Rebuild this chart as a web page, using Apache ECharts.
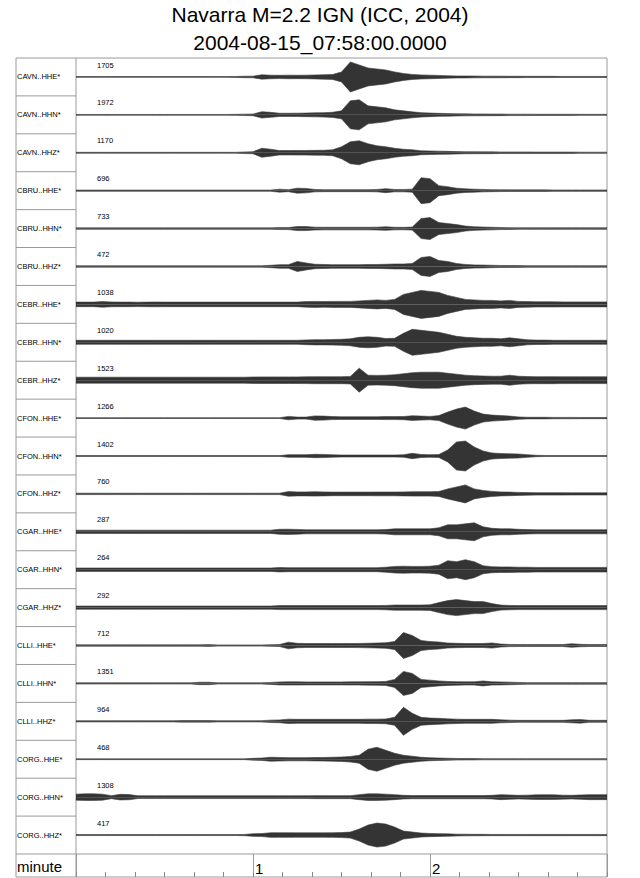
<!DOCTYPE html>
<html>
<head>
<meta charset="utf-8">
<script src="https://cdn.jsdelivr.net/npm/echarts@6/dist/echarts.min.js"></script>
<style>
html,body{margin:0;padding:0;background:#fff;}
#chart{width:640px;height:878px;}
</style>
</head>
<body>
<div id="chart"></div>
<script>
// ---- data (time in seconds from 07:58:00, envelope half-amplitude in plot pixels) ----
var timeSec = [0,3,6,9,12,15,18,21,24,27,
  30,33,36,39,42,45,48,51,54,57,
  60,63,66,69,72,75,78,81,84,87,
  90,93,96,99,102,105,108,111,114,117,
  120,123,126,129,132,135,138,141,144,147,
  150,153,156,159,162,165,168,171,174,177,
  180];
var minuteTicks = ['1','2'];
var stations = ['CAVN..HHE*','CAVN..HHN*','CAVN..HHZ*','CBRU..HHE*','CBRU..HHN*','CBRU..HHZ*',
  'CEBR..HHE*','CEBR..HHN*','CEBR..HHZ*','CFON..HHE*','CFON..HHN*','CFON..HHZ*',
  'CGAR..HHE*','CGAR..HHN*','CGAR..HHZ*','CLLI..HHE*','CLLI..HHN*','CLLI..HHZ*',
  'CORG..HHE*','CORG..HHN*','CORG..HHZ*'];
var maxCounts = [1705,1972,1170,696,733,472,1038,1020,1523,1266,1402,760,287,264,292,712,1351,964,468,1308,417];

var CAVN_HHE = [0.4,0.4,0.4,0.4,0.4,0.4,0.4,0.4,0.4,0.4,
  0.4,0.4,0.4,0.4,0.4,0.4,0.4,0.4,0.5,0.7,
  0.8,2.2,1.8,1.6,1.8,1.7,1.8,2,2.2,2.5,
  5,15,12,9,8,7,5,3.5,2.5,2,
  1.8,1.5,1.2,1,1,0.9,0.8,0.8,0.8,0.7,
  0.7,0.6,0.6,0.6,0.6,0.5,0.5,0.5,0.5,0.5,
  0.5];
var CAVN_HHN = [0.4,0.4,0.4,0.4,0.4,0.4,0.4,0.4,0.4,0.4,
  0.4,0.4,0.4,0.4,0.4,0.4,0.4,0.4,0.5,0.7,
  0.8,3.2,2.5,1.6,1.6,1.7,1.8,2,2.2,2.6,
  4,14,15,9,8,7,5,4,3,2.2,
  1.8,1.5,1.3,1.1,1,0.9,0.9,0.8,0.8,0.7,
  0.7,0.7,0.6,0.6,0.6,0.6,0.6,0.5,0.5,0.5,
  0.5];
var CAVN_HHZ = [0.45,0.45,0.45,0.45,0.45,0.45,0.45,0.45,0.45,0.45,
  0.45,0.45,0.45,0.45,0.45,0.45,0.45,0.45,0.45,0.8,
  1,4.5,3.5,2.2,2.2,2.3,2.3,2.4,2.5,3,
  6,11,12,9,7,6,4.5,3.5,3,2,
  1.8,1.6,1.4,1.2,1,1,0.9,0.9,0.8,0.8,
  0.8,0.8,0.7,0.7,0.7,0.7,0.7,0.6,0.6,0.6,
  0.6];
var CBRU_HHE = [0.6,0.6,0.6,0.6,0.6,0.6,0.6,0.6,0.6,0.6,
  0.6,0.6,0.6,0.6,0.6,0.6,0.6,0.6,0.6,0.6,
  0.6,0.6,0.6,1.5,1,2.5,2.2,1.2,1,1,
  1,1,1,1,1.2,2,1.2,1.2,1.5,13,
  12,5,4,2.5,1.8,1.5,1.2,1,0.9,0.8,
  0.8,0.8,0.8,0.8,0.7,0.7,0.7,0.7,0.7,0.7,
  0.7];
var CBRU_HHN = [0.7,0.7,0.7,0.7,0.7,0.7,0.7,0.7,0.7,0.7,
  0.7,0.7,0.7,0.7,0.7,0.7,0.7,0.7,0.7,0.7,
  0.7,0.7,0.7,1,1,2,2,1.4,1.3,1.3,
  1.3,1.3,1.3,1.3,1.4,1.8,1.3,1.2,1.5,10,
  11,6,5,4,2.5,1.8,1.5,1.3,1,0.9,
  0.8,0.8,0.8,0.8,0.8,0.8,0.8,0.8,0.8,0.8,
  0.8];
var CBRU_HHZ = [0.7,0.7,0.7,0.7,0.7,0.7,0.7,0.7,0.7,0.7,
  0.7,0.7,0.7,0.7,0.7,0.7,0.7,0.7,0.7,0.7,
  0.7,0.7,1.2,1.8,1.8,5,3.5,2.2,2,1.8,
  1.8,1.8,1.8,2,2,2.2,2.5,2.5,3,9,
  10,6,5,3,2,1.6,1.4,1.2,1,0.9,
  0.9,0.8,0.8,0.8,0.8,0.8,0.8,0.8,0.8,0.8,
  0.8];
var CEBR_HHE = [2.3,2.3,2.3,2.8,2.4,2.3,2.3,2.2,2.3,2.4,
  2.3,2.3,2.3,2.3,2.3,2.3,2.3,2.3,2.3,2.3,
  2.3,2.3,2.3,2.3,2.3,2.3,2.8,3,2.8,3,
  3,3,3.5,4,4.5,4,5,10,12,14,
  13,12,9,7,5,4.5,4,4,3.5,4,
  3,2.8,2.6,2.6,2.6,2.5,2.5,2.5,2.5,2.5,
  2.5];
var CEBR_HHN = [2,2,2,2,2,2,2,2,2,2,
  2,2,2,2,2,2,2,2,2,2,
  2,2,2,2,2,2,2.4,2.6,2.6,2.8,
  3,3.5,5,5.5,5,3.8,4,9,13,12,
  11,10,8,6,5,4.5,4,4,3.5,4.5,
  3.5,2.5,2.2,2.2,2,2,2,2,2,2,
  2];
var CEBR_HHZ = [3,3,3,3,3,3,3,3,3,3,
  3,3,3,3,3,3,3,3,3,3,
  3.2,3.3,3.3,3.3,3.3,3.3,3.4,3.5,3.5,3.5,
  3.5,3.8,12,5,4.8,5,5.5,6.5,7.5,8,
  8,8,7,6,5,4.5,4.2,4,4,5,
  4,3.6,3.5,3.5,3.5,3.4,3.4,3.4,3.4,3.4,
  3.4];
var CFON_HHE = [0.4,0.4,0.4,0.4,0.4,0.4,0.4,0.4,0.4,0.4,
  0.4,0.4,0.4,0.4,0.4,0.4,0.4,0.4,0.4,0.4,
  0.4,0.4,0.4,0.4,1.7,1,1,2.2,2,1.5,
  1.3,1.3,1.3,1.3,1.3,1.5,1.5,1.6,2.3,2,
  1.7,2.5,6,9,11,7,4,3,2.5,2,
  1.2,0.8,0.8,0.8,0.7,0.7,0.7,0.6,0.6,0.6,
  0.6];
var CFON_HHN = [0.4,0.4,0.4,0.4,0.4,0.4,0.4,0.4,0.4,0.4,
  0.4,0.4,0.4,0.4,0.4,0.4,0.4,0.4,0.4,0.4,
  0.4,0.4,0.4,0.4,1.3,1.3,1.3,1.7,1.6,1.2,
  1,1,1,1,1,1,1,1.2,2.7,1.5,
  1.3,1.5,6,14,15,9,5,3,2.5,2.2,
  2,1.3,0.7,0.5,0.5,0.5,0.5,0.5,0.5,0.5,
  0.5];
var CFON_HHZ = [0.7,0.7,0.7,0.7,0.7,0.7,0.7,0.7,0.7,0.7,
  0.7,0.7,0.7,0.7,0.7,0.7,0.7,0.7,0.7,0.7,
  0.7,0.7,0.7,0.7,2.3,2,2,2.2,2,1.8,
  1.8,1.8,1.8,1.8,1.9,1.9,1.9,2,2.2,2.2,
  2.2,2.5,5,7,9,5,3.5,2.5,2,1.8,
  1.5,1.3,1.2,1.2,1.2,1.2,1.1,1.1,1.1,1.1,
  1.1];
var CGAR_HHE = [1.6,1.6,1.6,1.6,1.6,1.6,1.6,1.6,1.6,1.6,
  1.6,1.6,1.6,1.6,1.6,1.6,1.6,1.6,1.6,1.6,
  1.6,1.6,1.6,2.5,2.6,2.4,2,2,2,2,
  2,2,2,2,2,2.2,3,3,3,3,
  3,4,7,7,8,9,5,3.5,3,3,
  2.5,2.2,2,2,2,2,2,2,2,2,
  2];
var CGAR_HHN = [1.7,1.7,1.7,1.7,1.7,1.7,1.7,1.7,1.7,1.7,
  1.7,1.7,1.7,1.7,1.7,1.7,1.7,1.7,1.7,1.7,
  1.7,1.7,1.7,2.2,2,2,2,2,2,2,
  2,2,2,2,2,2.5,3.3,3.5,3.3,3.3,
  3.5,4.5,9,8,10,8,4,3,2.8,2.8,
  2.5,2.5,2.3,2.3,2.3,2.3,2.3,2.3,2.3,2.3,
  2.3];
var CGAR_HHZ = [1.6,1.6,1.6,1.6,1.6,1.6,1.6,1.6,1.6,1.6,
  1.6,1.6,1.6,1.6,1.6,1.6,1.6,1.6,1.6,1.6,
  1.6,1.6,1.6,2,2,2,2,2,2,2,
  2,2,2,2,2,2.2,2.6,2.6,2.6,2.6,
  2.8,5,7,8,7,6,6,4,2.5,2.2,
  2,2,2,2,2,2,2,2,2,2,
  2];
var CLLI_HHE = [0.7,0.7,0.7,0.7,0.7,0.7,0.7,0.7,0.7,0.7,
  0.7,0.7,0.7,0.7,0.7,0.9,0.6,0.6,0.6,0.6,
  0.6,0.6,0.8,1,3.3,2.2,2,2,2,2,
  2,2,2.1,2.3,2.5,2.8,4,13,10,5,
  4,3.5,2.5,2.2,2,2,2,2.6,1.5,1.1,
  1,1,1,1,1,1,1.8,1.2,1,1,
  1];
var CLLI_HHN = [0.6,0.6,0.6,0.6,0.6,0.6,0.6,0.6,0.6,0.6,
  0.6,0.6,0.6,0.6,1.2,1.2,0.6,0.6,0.6,0.6,
  0.6,0.6,1,1.5,1.6,1.6,1.5,1.5,1.5,1.5,
  1.5,1.6,1.6,1.7,1.8,2,4,12,10,4,
  3.3,2.5,2,1.8,1.6,1.6,2.5,1.6,1.5,1.3,
  1,0.8,0.8,0.8,0.8,0.8,0.8,0.8,0.8,0.8,
  0.8];
var CLLI_HHZ = [0.6,0.6,0.6,0.6,0.6,0.6,0.6,0.6,0.6,0.6,
  0.6,0.6,0.8,0.8,0.8,0.8,0.6,0.6,0.6,0.6,
  0.6,0.7,1.2,1.4,2.2,2,2,2,2,2,
  2,2,2,2.2,2.2,2.4,4,14,8,4,
  3.3,3,2.5,2.2,2,2,2,2,1.5,1.2,
  1,1,1,1,1,1,1.5,1.8,1,1,
  1];
var CORG_HHE = [0.4,0.4,0.4,0.4,0.4,0.4,0.4,0.4,0.4,0.4,
  0.4,0.4,0.4,0.4,0.4,0.4,0.4,0.4,0.4,0.4,
  0.9,1.2,2,1.8,1.6,1.6,1.6,1.7,1.8,2,
  2.2,2.8,4,10,12,9,6,4,3,2,
  1.5,1.2,1,0.8,0.7,0.7,0.6,0.6,0.6,0.6,
  0.6,0.6,0.6,0.6,0.6,0.6,0.6,0.6,0.6,0.6,
  0.6];
var CORG_HHN = [3,3.3,3.3,3,1.5,2.8,2.6,1.4,1.4,1.4,
  1.4,1.4,1.4,1.4,1.4,1.4,1.4,1.4,1.4,1.4,
  1.4,1.4,1.4,1.4,1.4,1.4,1.4,1.5,1.5,1.5,
  1.5,1.5,2.5,3.3,3.3,3,2.5,1.8,1.6,1.6,
  1.6,1.6,1.6,1.6,1.6,1.6,1.6,1.8,2.5,2.2,
  1.8,2,2.3,2.4,2.3,2,1.8,2.2,2.5,2.5,
  2.5];
var CORG_HHZ = [0.5,0.5,0.5,0.5,0.5,0.5,0.5,0.5,0.5,0.5,
  0.5,0.5,0.5,0.5,0.5,0.5,0.5,0.5,0.5,0.6,
  1.3,1.5,2.3,2.3,2.3,2.2,2.2,2.2,2.2,2.3,
  2.5,3,6,10,12,11,8,4,3,2,
  1.6,1.4,1.2,0.9,0.8,0.7,0.7,0.6,0.6,0.6,
  0.6,0.6,0.6,0.6,0.6,0.6,0.6,0.6,0.6,0.6,
  0.6];

var traces = [CAVN_HHE,CAVN_HHN,CAVN_HHZ,CBRU_HHE,CBRU_HHN,CBRU_HHZ,
  CEBR_HHE,CEBR_HHN,CEBR_HHZ,CFON_HHE,CFON_HHN,CFON_HHZ,
  CGAR_HHE,CGAR_HHN,CGAR_HHZ,CLLI_HHE,CLLI_HHN,CLLI_HHZ,
  CORG_HHE,CORG_HHN,CORG_HHZ];

// ---- layout ----
var FONT = 'Liberation Sans, Arial, Helvetica, sans-serif';
var boxL = 16, boxR = 607, labR = 76, boxT = 58, traceB = 854, boxB = 877;
var n = traces.length;
var rowH = (traceB - boxT) / n;
var BORDER = '#9a9a9a';

var grids = [], xAxes = [], yAxes = [], series = [], graphics = [];
traces.forEach(function (amp, i) {
  var top = boxT + i * rowH;
  grids.push({left: labR, top: top, width: boxR - labR, height: rowH, show: false});
  xAxes.push({type: 'value', gridIndex: i, min: 0, max: 180, show: false});
  yAxes.push({type: 'value', gridIndex: i, min: -rowH / 2, max: rowH / 2, show: false});
  var up = timeSec.map(function (t, k) { return [t, amp[k]]; });
  var dn = timeSec.map(function (t, k) { return [t, -amp[k]]; });
  [up, dn].forEach(function (d) {
    series.push({
      type: 'line', xAxisIndex: i, yAxisIndex: i, data: d,
      symbol: 'none', silent: true, animation: false, clip: false,
      lineStyle: {color: '#3a3a3a', width: 0.6},
      areaStyle: {color: '#111', opacity: 0.85}
    });
  });
  graphics.push({type: 'text', silent: true, style: {
    text: stations[i], x: boxL + 1, y: top + rowH / 2,
    textVerticalAlign: 'middle', font: '7.5px ' + FONT, fill: '#000'}});
  graphics.push({type: 'text', silent: true, style: {
    text: String(maxCounts[i]), x: labR + 21, y: top + 7,
    textVerticalAlign: 'middle', font: '7.5px ' + FONT, fill: '#000'}});
  if (i > 0) {
    graphics.push({type: 'line', silent: true,
      shape: {x1: boxL, y1: top, x2: labR, y2: top},
      style: {stroke: BORDER, lineWidth: 1}});
  }
});

// axis row (minutes)
var ai = n;
grids.push({left: labR, top: traceB, width: boxR - labR, height: boxB - traceB, show: false});
xAxes.push({type: 'value', gridIndex: ai, min: 0, max: 180, interval: 10, position: 'bottom',
  axisLine: {show: false},
  axisTick: {show: true, inside: true, length: 5, lineStyle: {color: '#8a8a8a', width: 1}},
  splitLine: {show: false},
  axisLabel: {show: true, inside: true, margin: 1, align: 'left', padding: [0, 0, 0, 2],
    fontSize: 15, fontFamily: FONT, color: '#000',
    formatter: function (v) { return v === 60 ? minuteTicks[0] : (v === 120 ? minuteTicks[1] : ''); }}
});
xAxes.push({type: 'value', gridIndex: ai, min: 0, max: 180, interval: 60, position: 'top',
  axisLine: {show: false}, axisTick: {show: false}, axisLabel: {show: false},
  splitLine: {show: true, lineStyle: {color: BORDER, width: 1}}});
yAxes.push({type: 'value', gridIndex: ai, min: 0, max: 1, show: false});

graphics.push({type: 'rect', silent: true,
  shape: {x: boxL, y: boxT, width: boxR - boxL, height: boxB - boxT},
  style: {fill: 'none', stroke: BORDER, lineWidth: 1}});
graphics.push({type: 'line', silent: true,
  shape: {x1: labR, y1: boxT, x2: labR, y2: boxB}, style: {stroke: BORDER, lineWidth: 1}});
graphics.push({type: 'line', silent: true,
  shape: {x1: boxL, y1: traceB, x2: boxR, y2: traceB}, style: {stroke: BORDER, lineWidth: 1}});
graphics.push({type: 'text', silent: true, style: {
  text: 'minute', x: boxL + 1, y: (traceB + boxB) / 2 + 1, textVerticalAlign: 'middle',
  font: '15px ' + FONT, fill: '#000'}});

var chart = echarts.init(document.getElementById('chart'), null, {renderer: 'svg'});
chart.setOption({
  backgroundColor: '#fff',
  animation: false,
  title: [
    {text: 'Navarra M=2.2 IGN (ICC, 2004)', left: 'center', top: 4, padding: 0,
      textStyle: {fontSize: 21, fontWeight: 'normal', color: '#000', fontFamily: FONT}},
    {text: '2004-08-15_07:58:00.0000', left: 'center', top: 32, padding: 0,
      textStyle: {fontSize: 21, fontWeight: 'normal', color: '#000', fontFamily: FONT}}
  ],
  grid: grids,
  xAxis: xAxes,
  yAxis: yAxes,
  series: series,
  graphic: graphics
});
</script>
</body>
</html>
